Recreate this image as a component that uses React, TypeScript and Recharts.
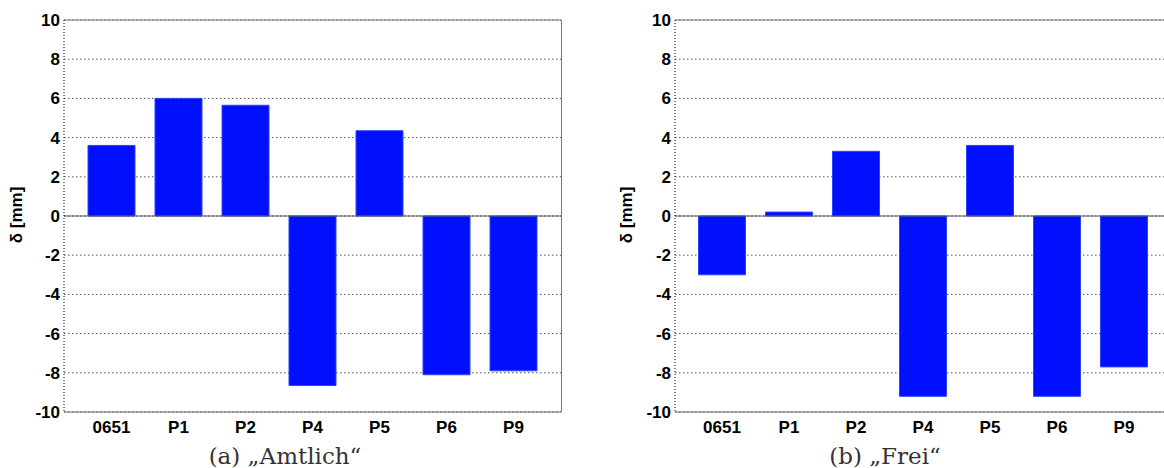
import React from "react";
import { BarChart, Bar, XAxis, YAxis, CartesianGrid, ReferenceLine } from "recharts";

// Points and measured displacement (mm) for both adjustments
const categories = ["0651", "P1", "P2", "P4", "P5", "P6", "P9"];
const amtlich = [3.6, 6.0, 5.65, -8.65, 4.35, -8.1, -7.9];
const frei = [-3.0, 0.2, 3.3, -9.2, 3.6, -9.2, -7.7];
const yTicks = [-10, -8, -6, -4, -2, 0, 2, 4, 6, 8, 10];

const BLUE = "#0010ff";
const tickStyle = {
  fontFamily: "'Liberation Sans', Arial, sans-serif",
  fontWeight: 700,
  fontSize: 17,
  fill: "#000",
};
const labelStyle = {
  fontFamily: "'Liberation Sans', Arial, sans-serif",
  fontWeight: 700,
  fontSize: 17,
};
const captionStyle = { fontFamily: "'DejaVu Serif', serif", fontSize: 23 };

function buildRows(values: number[]) {
  return categories.map((c, i) => ({ name: c, value: values[i] }));
}

function Panel({ values, padLeft, padRight }: { values: number[]; padLeft: number; padRight: number }) {
  return (
    <BarChart
      width={600}
      height={468}
      data={buildRows(values)}
      margin={{ top: 20, right: padRight, bottom: 0, left: 0 }}
    >
      <CartesianGrid vertical={false} stroke="#555" strokeDasharray="1.5 2.5" />
      <XAxis
        dataKey="name"
        height={56}
        padding={{ left: padLeft, right: padLeft }}
        tickLine={false}
        tickSize={0}
        tickMargin={9}
        axisLine={{ stroke: "#666" }}
        tick={tickStyle}
        interval={0}
      />
      <YAxis
        type="number"
        width={64}
        domain={[-10, 10]}
        ticks={yTicks}
        interval={0}
        allowDataOverflow
        tickLine={false}
        tickSize={0}
        tickMargin={4}
        axisLine={{ stroke: "#000", strokeDasharray: "1 2" }}
        tick={tickStyle}
      />
      <ReferenceLine y={10} stroke="#777" />
      <ReferenceLine y={0} stroke="#555" />
      <Bar
        dataKey="value"
        fill={BLUE}
        stroke="#2a45ff"
        strokeWidth={1}
        barSize={47}
        isAnimationActive={false}
      />
    </BarChart>
  );
}

export default function App() {
  return (
    <div
      style={{
        position: "fixed",
        left: 0,
        top: 0,
        width: 1164,
        height: 468,
        overflow: "hidden",
        background: "#fff",
      }}
    >
      <div style={{ position: "absolute", left: 0, top: 0 }}>
        <Panel values={amtlich} padLeft={14} padRight={39} />
      </div>
      <div style={{ position: "absolute", left: 611, top: 0 }}>
        <Panel values={frei} padLeft={13.5} padRight={40} />
      </div>
      <svg
        width={1164}
        height={468}
        style={{ position: "absolute", left: 0, top: 0, pointerEvents: "none" }}
      >
        {/* right frame edge of panel (a) */}
        <line x1={561.5} y1={20} x2={561.5} y2={412} stroke="#777" />
        <text transform="translate(22,215) rotate(-90)" textAnchor="middle" style={labelStyle}>
          δ [mm]
        </text>
        <text transform="translate(632,215) rotate(-90)" textAnchor="middle" style={labelStyle}>
          δ [mm]
        </text>
        <text x={285} y={464} textAnchor="middle" fill="#333" style={captionStyle}>
          (a) „Amtlich“
        </text>
        <text x={885} y={464} textAnchor="middle" fill="#333" style={captionStyle}>
          (b) „Frei“
        </text>
      </svg>
    </div>
  );
}
